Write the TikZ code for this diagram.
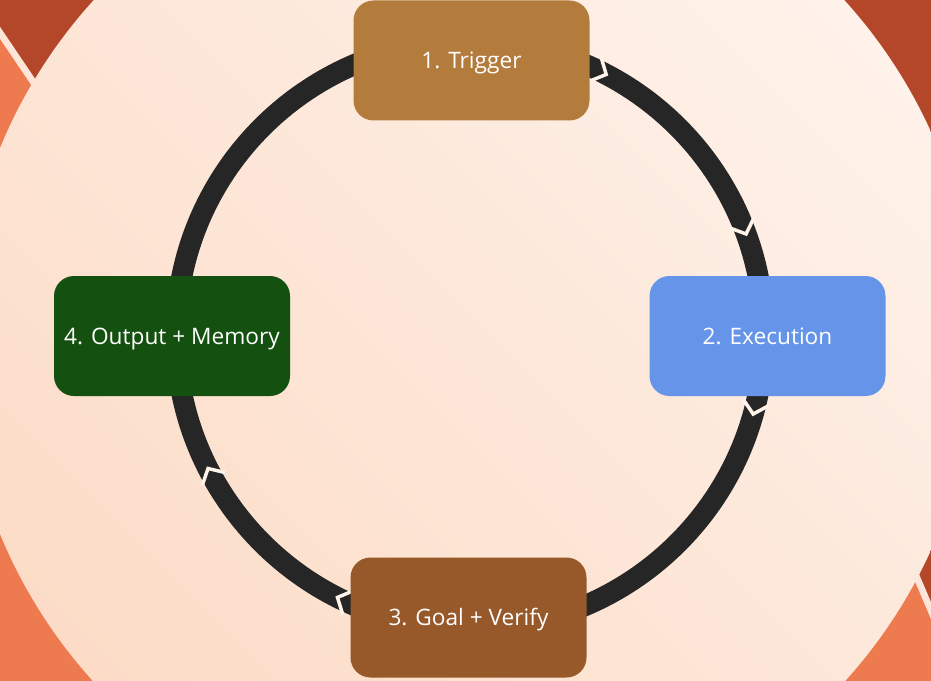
\documentclass[tikz,border=0pt]{standalone}
\usepackage{fontspec}
\setmainfont{Open Sans}
\usepackage{tikz}
\usetikzlibrary{calc}

\definecolor{bgdark}{HTML}{B4462A}
\definecolor{bgorange}{HTML}{EE7A4F}
\definecolor{peachhi}{HTML}{FEF2EA}
\definecolor{peachlo}{HTML}{FCDCC7}
\definecolor{peachmid}{HTML}{FDE6D8}
\definecolor{notchlight}{HTML}{FFF3EA}
\definecolor{ringdark}{HTML}{262626}
\definecolor{triggerfill}{HTML}{B37C3D}
\definecolor{executionfill}{HTML}{6594E8}
\definecolor{goalfill}{HTML}{97582A}
\definecolor{outputfill}{HTML}{14500F}

\begin{document}
\begin{tikzpicture}[x=0.75pt,y=0.75pt,yscale=-1,xscale=1,
  stage/.style={rounded corners=15pt, minimum width=177pt, minimum height=90pt,
    inner sep=0pt, text height=12pt, text depth=0pt, text=white,
    font=\fontsize{17}{20}\selectfont},
  ring/.style={line width=15.75pt, draw=ringdark},
  notch/.style={line width=2.6pt, draw=notchlight, line join=miter},
  split/.style={line width=5pt, draw=peachmid, fill=bgdark}]
\useasboundingbox (0,0) rectangle (931,681);
\clip (0,0) rectangle (931,681);

%Background corners
\fill [bgorange] (0,0) rectangle (931,681);
\draw [split] (-10,-10) -- (-10,18) -- (90,166) -- (500,-10) -- cycle ;
\draw [split] (600,-10) -- (941,-10) -- (941,634) -- (880,491) -- cycle ;

%Big disc
\shade [top color=peachhi, bottom color=peachlo, shading angle=-45] (469,341) circle (507) ;

%Cycle ring
\coordinate (hub) at (470,335);
\draw [ring] (hub) circle (294) ;

%Chevrons on the ring
\draw [notch] ($(hub)+(-64.7:307)$) -- ($(hub)+(-62.4:294)$) -- ($(hub)+(-64.7:281)$) ;
\draw [notch] ($(hub)+(-22.4:307)$) -- ($(hub)+(-20.1:294)$) -- ($(hub)+(-22.4:281)$) ;
\draw [notch] ($(hub)+(13.3:307)$) -- ($(hub)+(15.6:294)$) -- ($(hub)+(13.3:281)$) ;
\draw [notch] ($(hub)+(114.5:307)$) -- ($(hub)+(116.8:294)$) -- ($(hub)+(114.5:281)$) ;
\draw [notch] ($(hub)+(150.7:307)$) -- ($(hub)+(153:294)$) -- ($(hub)+(150.7:281)$) ;

% Stage nodes
\node [stage, fill=triggerfill] (trigger) at (471.5,60.5) {1. Trigger};
\node [stage, fill=executionfill] (execution) at (767.5,336) {2. Execution};
\node [stage, fill=goalfill] (goal) at (468.5,617.5) {3. Goal + Verify};
\node [stage, fill=outputfill] (output) at (172,336) {4. Output + Memory};

\end{tikzpicture}
\end{document}
